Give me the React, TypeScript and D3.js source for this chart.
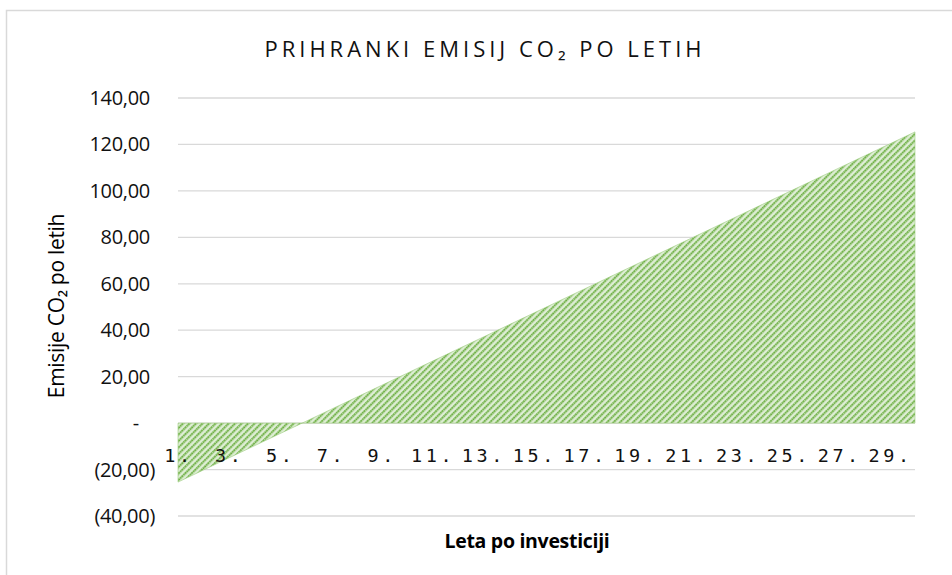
import React, { useRef, useEffect } from 'react';
import * as d3 from 'd3';

// years after investment
const years = d3.range(1, 31).map(n => `${n}.`);
// CO2 savings per year
const savings = [
  -25.4, -20.2, -15.0, -9.8, -4.6, 0.6, 5.8, 11.0, 16.2, 21.4,
  26.6, 31.8, 37.0, 42.2, 47.4, 52.6, 57.8, 63.0, 68.2, 73.4,
  78.6, 83.8, 89.0, 94.2, 99.4, 104.6, 109.8, 115.0, 120.2, 125.4,
];
const yTicks = [-40, -20, 0, 20, 40, 60, 80, 100, 120, 140];

const W = 952;
const H = 575;

function fmt(v: number) {
  if (v === 0) return '-';
  if (v < 0) return `(${Math.abs(v)},00)`;
  return `${v},00`;
}

function SavingsChart() {
  const svgRef = useRef<SVGSVGElement>(null);

  useEffect(() => {
    const svg = d3.select(svgRef.current);
    svg.selectAll('*').remove();

    const margin = { top: 98, right: 37, bottom: 59, left: 178 };
    const x = d3.scalePoint<string>()
      .domain(years)
      .range([margin.left, W - margin.right]);
    const y = d3.scaleLinear()
      .domain([-40, 140])
      .range([H - margin.bottom, margin.top]);

    // chart frame
    svg.append('rect')
      .attr('x', 6.5).attr('y', 10.5)
      .attr('width', W + 20).attr('height', H + 20)
      .attr('fill', '#fff')
      .attr('stroke', '#d9d9d9')
      .attr('stroke-width', 1.5);

    const defs = svg.append('defs');
    const pat = defs.append('pattern')
      .attr('id', 'hatch')
      .attr('patternUnits', 'userSpaceOnUse')
      .attr('width', 4.6)
      .attr('height', 4.6)
      .attr('patternTransform', 'rotate(45)');
    pat.append('rect').attr('width', 4.6).attr('height', 4.6).attr('fill', '#c5e0b4');
    pat.append('rect').attr('x', 2.8).attr('width', 1.6).attr('height', 4.6).attr('fill', '#e2f0d9');
    pat.append('line')
      .attr('x1', 1).attr('x2', 1).attr('y1', 0).attr('y2', 4.6)
      .attr('stroke', '#6aad3f')
      .attr('stroke-width', 1.8)
      .attr('stroke-dasharray', '1.5 0.8');

    // gridlines
    svg.append('g')
      .selectAll('line')
      .data(yTicks)
      .enter().append('line')
      .attr('x1', margin.left)
      .attr('x2', W - margin.right)
      .attr('y1', d => y(d))
      .attr('y2', d => y(d))
      .attr('stroke', '#d9d9d9')
      .attr('stroke-width', 1.3);

    // area
    const area = d3.area<number>()
      .x((d, i) => x(years[i]) as number)
      .y0(y(0))
      .y1(d => y(d));

    svg.append('path')
      .datum(savings)
      .attr('d', area)
      .attr('fill', 'url(#hatch)')
      .attr('stroke', '#9ccc7e')
      .attr('stroke-width', 0.6);

    // y tick labels
    svg.append('g')
      .style('font', '20px "Open Sans", "Noto Sans", sans-serif')
      .style('letter-spacing', '-0.3px')
      .attr('fill', '#111')
      .attr('text-anchor', 'end')
      .selectAll('text')
      .data(yTicks)
      .enter().append('text')
      .attr('x', d => (d < 0 ? 155 : d === 0 ? 139 : 150))
      .attr('y', d => y(d))
      .attr('dy', '0.35em')
      .text(d => fmt(d));

    // x tick labels
    svg.append('g')
      .style('font', '18.5px "DejaVu Sans Mono", monospace')
      .style('letter-spacing', '3.6px')
      .attr('fill', '#111')
      .attr('text-anchor', 'middle')
      .selectAll('text')
      .data(years.filter((d, i) => i % 2 === 0))
      .enter().append('text')
      .attr('x', d => (x(d) as number) + 1)
      .attr('y', 462)
      .text(d => d);

    // title
    svg.append('text')
      .attr('x', 485)
      .attr('y', 57)
      .attr('text-anchor', 'middle')
      .attr('fill', '#111')
      .style('font', '22px "Open Sans", sans-serif')
      .style('letter-spacing', '4px')
      .text('PRIHRANKI EMISIJ CO₂ PO LETIH');

    // y axis title
    svg.append('text')
      .attr('transform', `translate(64,${306}) rotate(-90)`)
      .attr('text-anchor', 'middle')
      .attr('fill', '#000')
      .style('font', '21px "Open Sans", sans-serif')
      .style('letter-spacing', '-0.3px')
      .text('Emisije CO₂ po letih');

    // x axis title
    svg.append('text')
      .attr('x', 527)
      .attr('y', 548)
      .attr('text-anchor', 'middle')
      .attr('fill', '#000')
      .style('font', 'bold 19.5px "Open Sans", sans-serif')
      .style('letter-spacing', '-0.3px')
      .text('Leta po investiciji');
  }, []);

  return (
    <div style={{ position: 'absolute', left: 0, top: 0 }}>
      <svg ref={svgRef} width={W} height={H} style={{ display: 'block' }}></svg>
    </div>
  );
}

export default function App() {
  return <SavingsChart />;
}
